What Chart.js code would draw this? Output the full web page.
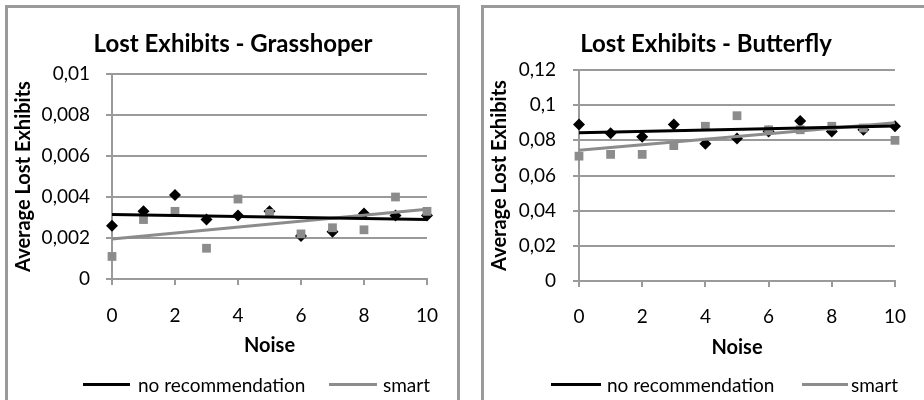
<!DOCTYPE html>
<html>
<head>
<meta charset="utf-8">
<script src="https://cdn.jsdelivr.net/npm/chart.js@4.4.1/dist/chart.umd.min.js"></script>
<style>
    body { margin: 0; width: 924px; height: 400px; overflow: hidden; background: #fff; font-family: Lato, sans-serif; position: relative; }
    .box { position: absolute; top: 5px; height: 420px; border: 3px solid #9a9a9a; box-sizing: border-box; }
    canvas { position: absolute; }
    .title { position: absolute; font-weight: bold; font-size: 24px; transform: translate(-50%, -50%); white-space: nowrap; color: #000; }
    .leg-line { position: absolute; height: 3px; }
    .leg-text { position: absolute; font-size: 19px; transform: translateY(-50%); white-space: nowrap; color: #000; }
</style>
</head>
<body>
<div class="box" style="left:5px; width:455px;"></div>
<div class="box" style="left:481px; width:460px;"></div>

<canvas id="grassChart" width="449" height="392" style="left:8px; top:8px;"></canvas>
<canvas id="butterChart" width="440" height="392" style="left:484px; top:8px;"></canvas>

<div class="title" style="left:233px; top:42px;">Lost Exhibits - Grasshoper</div>
<div class="title" style="left:706px; top:42px;">Lost Exhibits - Butterfly</div>

<div class="leg-line" style="left:83px; top:383px; width:47px; background:#000;"></div>
<div class="leg-text" style="left:138px; top:384px;">no recommendation</div>
<div class="leg-line" style="left:329px; top:383px; width:48px; background:#8c8c8c;"></div>
<div class="leg-text" style="left:383px; top:384px;">smart</div>

<div class="leg-line" style="left:551px; top:383px; width:50px; background:#000;"></div>
<div class="leg-text" style="left:607px; top:384px;">no recommendation</div>
<div class="leg-line" style="left:802px; top:383px; width:46px; background:#8c8c8c;"></div>
<div class="leg-text" style="left:851px; top:384px;">smart</div>

<script>
// noise levels (x values)
const noise = [0, 1, 2, 3, 4, 5, 6, 7, 8, 9, 10];
const trendX = [0, 10];

// Grasshoper
const grassNoRec = [0.0026, 0.0033, 0.0041, 0.0029, 0.0031, 0.0033, 0.0021, 0.0023, 0.0032, 0.0031, 0.0031];
const grassSmart = [0.0011, 0.0029, 0.0033, 0.0015, 0.0039, 0.0032, 0.0022, 0.0025, 0.0024, 0.0040, 0.0033];
const grassTrendNoRec = [0.00315, 0.0029];
const grassTrendSmart = [0.00195, 0.0034];
const grassYTicks = ['0', '0,002', '0,004', '0,006', '0,008', '0,01'];

// Butterfly
const butterNoRec = [0.089, 0.084, 0.082, 0.089, 0.078, 0.081, 0.085, 0.091, 0.085, 0.086, 0.088];
const butterSmart = [0.071, 0.072, 0.072, 0.077, 0.088, 0.094, 0.086, 0.086, 0.088, 0.087, 0.080];
const butterTrendNoRec = [0.0843, 0.0881];
const butterTrendSmart = [0.0744, 0.090];
const butterYTicks = ['0', '0,02', '0,04', '0,06', '0,08', '0,1', '0,12'];

const xTickLabels = ['0', '2', '4', '6', '8', '10'];

const GRAY = '#8c8c8c';
const GRID = '#9a9a9a';

const toPoints = (xs, ys) => xs.map((x, i) => ({ x: x, y: ys[i] }));

const makeChart = (id, noRec, smart, trendNoRec, trendSmart, yTicks, yMax, yStep, lay) => {
    const ctx = document.getElementById(id).getContext('2d');
    return new Chart(ctx, {
        type: 'scatter',
        data: {
            datasets: [
                {
                    label: 'no recommendation trend',
                    data: toPoints(trendX, trendNoRec),
                    showLine: true, borderColor: '#000', borderWidth: 3,
                    pointRadius: 0, order: 0
                },
                {
                    label: 'smart trend',
                    data: toPoints(trendX, trendSmart),
                    showLine: true, borderColor: GRAY, borderWidth: 3,
                    pointRadius: 0, order: 1
                },
                {
                    label: 'smart',
                    data: toPoints(noise, smart),
                    pointStyle: 'rect', pointRadius: 6.2,
                    backgroundColor: GRAY, borderColor: GRAY, borderWidth: 0, order: 2
                },
                {
                    label: 'no recommendation',
                    data: toPoints(noise, noRec),
                    pointStyle: 'rectRot', pointRadius: 6,
                    backgroundColor: '#000', borderColor: '#000', borderWidth: 0, order: 3
                }
            ]
        },
        options: {
            responsive: false,
            animation: false,
            clip: false,
            layout: { padding: { top: lay.top, right: lay.right, bottom: lay.bottom, left: 0 } },
            plugins: { legend: { display: false }, tooltip: { enabled: false }, title: { display: false } },
            scales: {
                x: {
                    type: 'linear', min: 0, max: 10,
                    afterFit: (sc) => { sc.height = lay.xHeight; },
                    grid: { drawOnChartArea: false, drawTicks: true, tickLength: 6, color: GRID, lineWidth: 2 },
                    border: { color: GRID, width: 2 },
                    ticks: {
                        stepSize: 2, padding: lay.xPad, color: '#000',
                        font: { family: 'Lato', size: 19 },
                        callback: (v, i) => xTickLabels[i]
                    },
                    title: {
                        display: true, text: 'Noise', color: '#000',
                        font: { family: 'Lato', size: 20, weight: 'bold' },
                        padding: { top: 0, bottom: lay.titlePad }
                    }
                },
                y: {
                    min: 0, max: yMax,
                    afterFit: (sc) => { sc.width = lay.yWidth; },
                    grid: { color: GRID, lineWidth: 2, tickLength: 6 },
                    border: { color: GRID, width: 2 },
                    ticks: {
                        stepSize: yStep, padding: lay.yPad, color: '#000',
                        font: { family: 'Lato', size: 19 },
                        callback: (v, i) => yTicks[i]
                    },
                    title: {
                        display: true, text: 'Average Lost Exhibits', color: '#000',
                        font: { family: 'Lato', size: 20, weight: 'bold' },
                        padding: { top: 4, bottom: 0 }
                    }
                }
            }
        }
    });
};

makeChart('grassChart', grassNoRec, grassSmart, grassTrendNoRec, grassTrendSmart, grassYTicks, 0.01, 0.002,
    { top: 66, right: 29, bottom: 41, xHeight: 80, xPad: 19, yWidth: 104, yPad: 16, titlePad: 1 });

makeChart('butterChart', butterNoRec, butterSmart, butterTrendNoRec, butterTrendSmart, butterYTicks, 0.12, 0.02,
    { top: 62, right: 27, bottom: 40, xHeight: 79, xPad: 18, yWidth: 95, yPad: 17, titlePad: 0 });
</script>
</body>
</html>
